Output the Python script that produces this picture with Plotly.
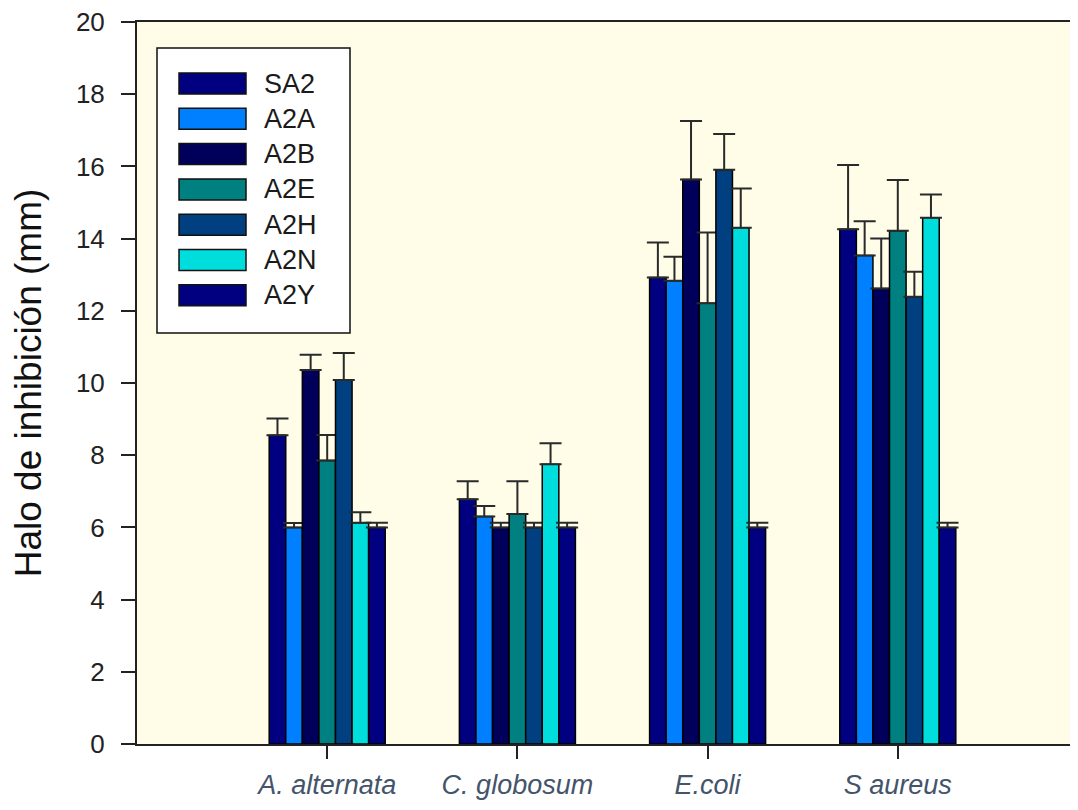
import plotly.graph_objects as go

categories = ["A. alternata", "C. globosum", "E.coli", "S aureus"]
series_names = ["SA2", "A2A", "A2B", "A2E", "A2H", "A2N", "A2Y"]
series_colors = ["#000080", "#0080FF", "#00005A", "#008080", "#004080", "#00DDDD", "#000080"]

SA2 = [8.55, 6.78, 12.92, 14.26]
A2A = [6.00, 6.30, 12.83, 13.53]
A2B = [10.36, 6.00, 15.64, 12.62]
A2E = [7.85, 6.37, 12.21, 14.22]
A2H = [10.08, 6.00, 15.91, 12.39]
A2N = [6.13, 7.75, 14.30, 14.58]
A2Y = [6.00, 6.00, 6.00, 6.00]

SA2_err = [0.47, 0.50, 0.97, 1.78]
A2A_err = [0.12, 0.29, 0.67, 0.95]
A2B_err = [0.42, 0.13, 1.62, 1.38]
A2E_err = [0.71, 0.91, 1.96, 1.40]
A2H_err = [0.75, 0.13, 0.99, 0.69]
A2N_err = [0.29, 0.58, 1.09, 0.64]
A2Y_err = [0.13, 0.13, 0.13, 0.13]

values = [SA2, A2A, A2B, A2E, A2H, A2N, A2Y]
errors = [SA2_err, A2A_err, A2B_err, A2E_err, A2H_err, A2N_err, A2Y_err]

# page body has an 8px margin; size figure so the page fits the window
OFF = 8
W, H = 1078 - 2 * OFF, 810 - 2 * OFF
ML, MT = 137 - OFF, 22 - OFF
PH = 722
PW = W - ML
MB = H - MT - PH
CAT_PX = 190.2  # pixels per category step in the reference
x_end = -1 + PW / CAT_PX

def px_x(px):
    return (px - OFF - ML) / PW

def px_y(py):
    return (H - MB - (py - OFF)) / PH

fig = go.Figure()
for name, col, vals, err in zip(series_names, series_colors, values, errors):
    fig.add_trace(go.Bar(
        x=categories, y=vals, name=name,
        marker=dict(color=col, line=dict(color="#000000", width=1.5)),
        error_y=dict(type="data", symmetric=False, array=err,
                     arrayminus=[0] * len(err), color="#2a2a2a",
                     thickness=2, width=11),
        showlegend=False,
    ))

# Legend box drawn from the series lists
shapes = [dict(type="rect", xref="paper", yref="paper",
               x0=px_x(157), x1=px_x(350), y0=px_y(333), y1=px_y(48),
               fillcolor="#FFFFFF", line=dict(color="#111111", width=1.5),
               layer="above")]
annotations = []
for i, (name, col) in enumerate(zip(series_names, series_colors)):
    cy = 83.5 + 35.3 * i
    shapes.append(dict(type="rect", xref="paper", yref="paper",
                       x0=px_x(179), x1=px_x(246), y0=px_y(cy + 10.5), y1=px_y(cy - 10.5),
                       fillcolor=col, line=dict(color="#111111", width=1.5),
                       layer="above"))
    annotations.append(dict(xref="paper", yref="paper", x=px_x(262), y=px_y(cy),
                            xanchor="left", yanchor="middle", text=name, showarrow=False,
                            font=dict(family="Liberation Sans, Arial", size=27, color="#1a1a1a")))

fig.update_layout(
    width=W, height=H,
    margin=dict(l=ML, r=0, t=MT, b=MB, pad=0, autoexpand=False),
    paper_bgcolor="#FFFFFF",
    plot_bgcolor="#FFFDE8",
    barmode="group",
    bargap=0.39,
    bargroupgap=0,
    shapes=shapes,
    annotations=annotations,
    font=dict(family="Liberation Sans, Arial", color="#222222"),
    xaxis=dict(
        type="category", range=[-1, x_end],
        showgrid=False, zeroline=False,
        showline=True, linecolor="#222222", linewidth=2, mirror=True,
        ticks="outside", ticklen=13, tickwidth=1.5, tickcolor="#222222",
        tickfont=dict(family="Liberation Sans, Arial", size=27, color="#44546A",
                      style="italic"),
        ticklabelstandoff=3,
        ticklabeloverflow="allow",
    ),
    yaxis=dict(
        range=[0, 20], dtick=2,
        showgrid=False, zeroline=False,
        showline=True, linecolor="#222222", linewidth=2,
        ticks="outside", ticklen=14, tickwidth=1.5, tickcolor="#222222",
        tickfont=dict(family="Liberation Sans, Arial", size=26, color="#222222"),
        ticklabelstandoff=11,
        ticklabeloverflow="allow",
        title=dict(text="Halo de inhibición (mm)", standoff=26,
                   font=dict(family="Liberation Sans, Arial", size=37, color="#111111")),
    ),
)

fig.write_html("out.html")
